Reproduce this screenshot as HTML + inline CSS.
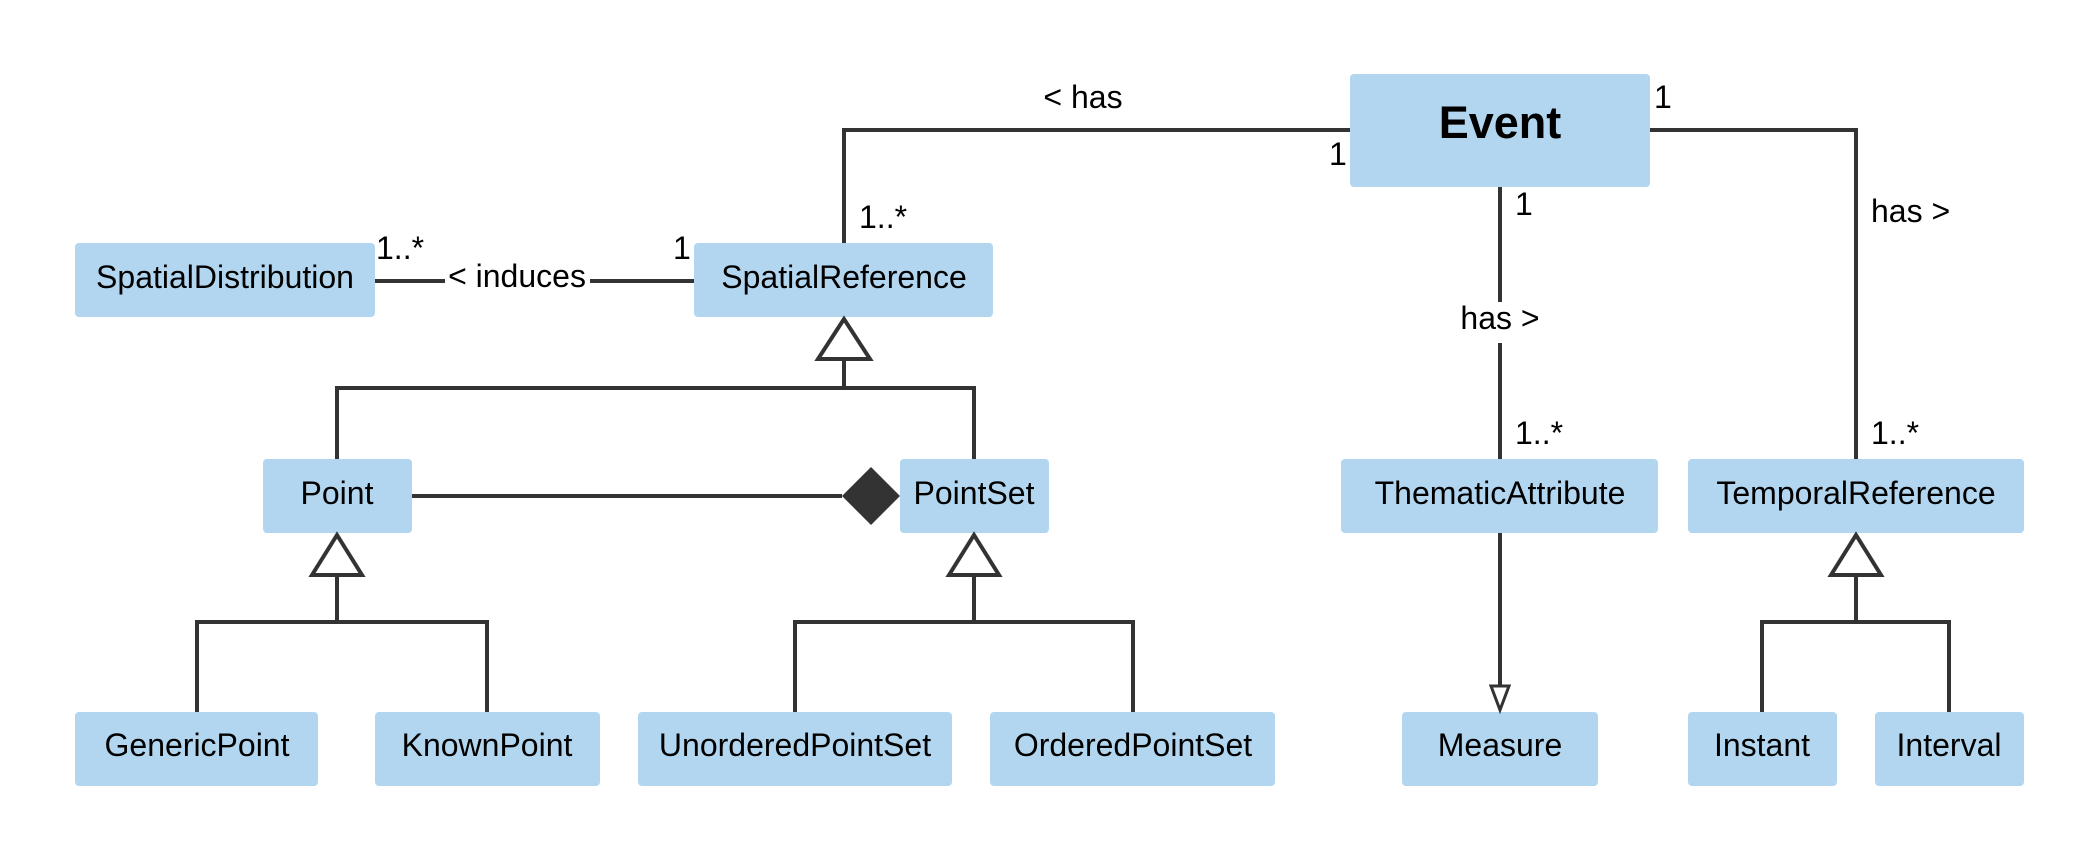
<!DOCTYPE html>
<html><head><meta charset="utf-8"><style>
html,body{margin:0;padding:0;background:#fff;width:2100px;height:863px;overflow:hidden}
svg text{font-family:"Liberation Sans",Arial,sans-serif;fill:#000}
</style></head><body>
<svg width="2100" height="863" viewBox="0 0 2100 863" xmlns="http://www.w3.org/2000/svg">
<g fill="#b2d6ef">
<rect x="1350" y="74" width="300" height="113" rx="4"/>
<rect x="75" y="243" width="300" height="74" rx="4"/>
<rect x="694" y="243" width="299" height="74" rx="4"/>
<rect x="263" y="459" width="149" height="74" rx="4"/>
<rect x="900" y="459" width="149" height="74" rx="4"/>
<rect x="1341" y="459" width="317" height="74" rx="4"/>
<rect x="1688" y="459" width="336" height="74" rx="4"/>
<rect x="75" y="712" width="243" height="74" rx="4"/>
<rect x="375" y="712" width="225" height="74" rx="4"/>
<rect x="638" y="712" width="314" height="74" rx="4"/>
<rect x="990" y="712" width="285" height="74" rx="4"/>
<rect x="1402" y="712" width="196" height="74" rx="4"/>
<rect x="1688" y="712" width="149" height="74" rx="4"/>
<rect x="1875" y="712" width="149" height="74" rx="4"/>
</g>
<g stroke="#333" stroke-width="4" fill="none">
<polyline points="1350,130 844,130 844,243"/>
<polyline points="1650,130 1856,130 1856,459"/>
<line x1="1500" y1="187" x2="1500" y2="302"/>
<line x1="1500" y1="343" x2="1500" y2="459"/>
<line x1="1500" y1="533" x2="1500" y2="690"/>
<polygon points="1491,686 1509,686 1500,710" fill="#fff" stroke-width="3"/>
<line x1="375" y1="281" x2="445" y2="281"/>
<line x1="590" y1="281" x2="694" y2="281"/>
<polygon points="844,319 818,359 870,359" fill="#fff"/>
<polyline points="337,459 337,388 974,388 974,459"/>
<line x1="844" y1="359" x2="844" y2="388"/>
<line x1="412" y1="496" x2="842" y2="496"/>
<polygon points="312,575 337,535 362,575" fill="#fff"/>
<line x1="337" y1="575" x2="337" y2="622"/>
<polyline points="197,712 197,622 487,622 487,712"/>
<polygon points="949,575 974,535 999,575" fill="#fff"/>
<line x1="974" y1="575" x2="974" y2="622"/>
<polyline points="795,712 795,622 1133,622 1133,712"/>
<polygon points="1831,575 1856,535 1881,575" fill="#fff"/>
<line x1="1856" y1="575" x2="1856" y2="622"/>
<polyline points="1762,712 1762,622 1949,622 1949,712"/>
</g>
<polygon points="842,496 871,467 900,496 871,525" fill="#333"/>
<g font-size="32" text-anchor="middle">
<text x="1500" y="138" font-size="45" font-weight="bold">Event</text>
<text x="225" y="288">SpatialDistribution</text>
<text x="844" y="288">SpatialReference</text>
<text x="337" y="504">Point</text>
<text x="974" y="504">PointSet</text>
<text x="1500" y="504">ThematicAttribute</text>
<text x="1856" y="504">TemporalReference</text>
<text x="197" y="756">GenericPoint</text>
<text x="487" y="756">KnownPoint</text>
<text x="795" y="756">UnorderedPointSet</text>
<text x="1133" y="756">OrderedPointSet</text>
<text x="1500" y="756">Measure</text>
<text x="1762" y="756">Instant</text>
<text x="1949" y="756">Interval</text>
<text x="517" y="287">&lt; induces</text>
<text x="1083" y="108">&lt; has</text>
<text x="1500" y="329">has &gt;</text>
</g>
<g font-size="32">
<text x="376" y="259">1..*</text>
<text x="673" y="259">1</text>
<text x="859" y="228">1..*</text>
<text x="1329" y="165">1</text>
<text x="1654" y="108">1</text>
<text x="1515" y="215">1</text>
<text x="1871" y="222">has &gt;</text>
<text x="1515" y="444">1..*</text>
<text x="1871" y="444">1..*</text>
</g>
</svg>
</body></html>
